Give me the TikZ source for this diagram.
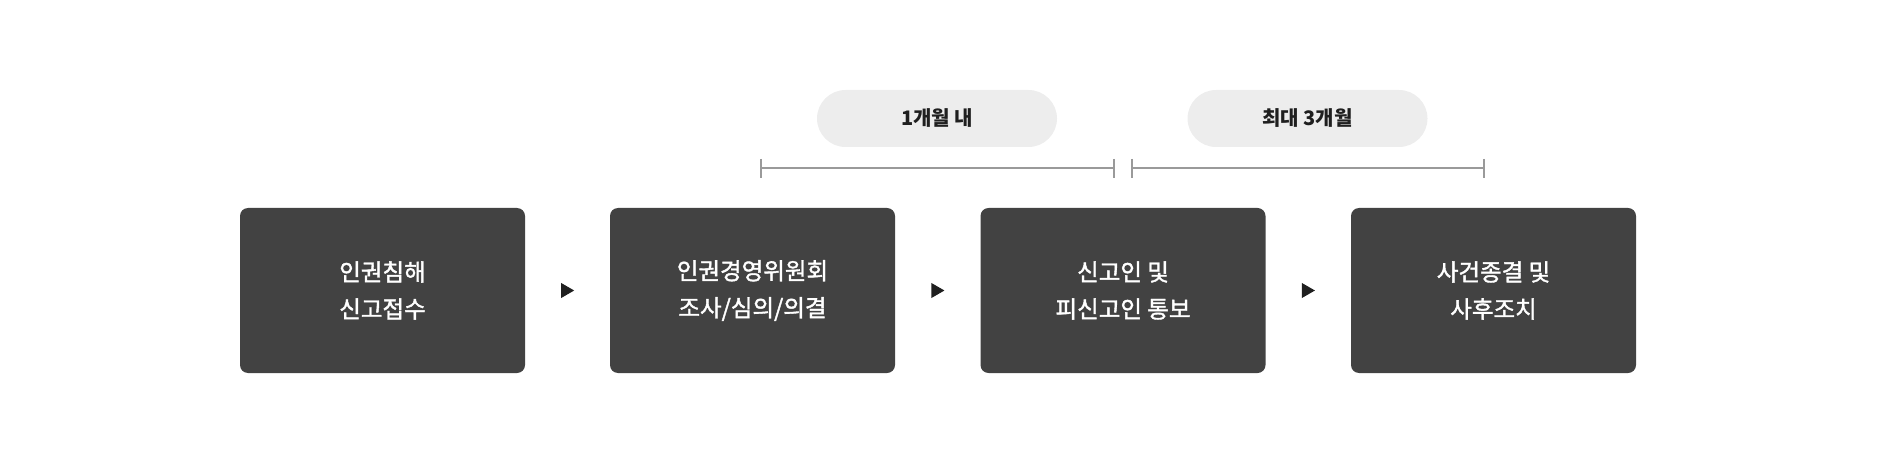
\documentclass[tikz,border=0pt]{standalone}
\usepackage{fontspec}
\usetikzlibrary{shapes.geometric,positioning,calc}
\newfontfamily\kr{Noto Sans CJK KR}
\newfontfamily\krmed[FakeBold=1.6]{Noto Sans CJK KR}
\definecolor{boxgray}{HTML}{424242}
\definecolor{pillgray}{HTML}{EDEDED}
\definecolor{linegray}{HTML}{9A9A9A}
\definecolor{inkdark}{HTML}{1F1F1F}
\tikzset{
  stepbox/.style={fill=boxgray, draw=none, rounded corners=8pt, minimum width=285pt, minimum height=165pt,
    text=white, align=center, font=\krmed\fontsize{23.5pt}{37pt}\selectfont, inner sep=0pt},
  pill/.style={fill=pillgray, draw=none, rounded corners=28.5pt, minimum width=240pt, minimum height=57pt,
    text=inkdark, font=\kr\bfseries\fontsize{20pt}{24pt}\selectfont, inner sep=0pt},
  tri/.style={isosceles triangle, isosceles triangle apex angle=60, fill=inkdark, draw=none,
    minimum height=13pt, minimum width=14pt, inner sep=0pt},
  span/.style={draw=linegray, line width=1.3pt},
}
\begin{document}
\begin{tikzpicture}[x=1pt,y=-1pt]
\useasboundingbox (0,0) rectangle (1881,465);
\node[stepbox] (b1) at (382.5,290.5) {인권침해\\신고접수};
\node[stepbox] (b2) at (752.5,290.5) {인권경영위원회\\조사/심의/의결};
\node[stepbox] (b3) at (1123,290.5) {신고인 및\\피신고인 통보};
\node[stepbox] (b4) at (1493.5,290.5) {사건종결 및\\사후조치};
\node[tri] (t1) at ($(b1.east)!0.5!(b2.west)+(-2,0)$) {};
\node[tri] (t2) at ($(b2.east)!0.5!(b3.west)+(-2,0)$) {};
\node[tri] (t3) at ($(b3.east)!0.5!(b4.west)+(-2,0)$) {};
\node[pill] (p1) at (937,118.5) {1개월 내};
\node[pill] (p2) at (1307.5,118.5) {최대 3개월};
\coordinate (s1a) at (761,168);
\coordinate (s1b) at (1114,168);
\coordinate (s2a) at (1132,168);
\coordinate (s2b) at (1484,168);
\draw[span] (s1a) -- (s1b);
\draw[span] ($(s1a)+(0,-9)$) -- ($(s1a)+(0,10)$);
\draw[span] ($(s1b)+(0,-9)$) -- ($(s1b)+(0,10)$);
\draw[span] (s2a) -- (s2b);
\draw[span] ($(s2a)+(0,-9)$) -- ($(s2a)+(0,10)$);
\draw[span] ($(s2b)+(0,-9)$) -- ($(s2b)+(0,10)$);
\end{tikzpicture}
\end{document}
